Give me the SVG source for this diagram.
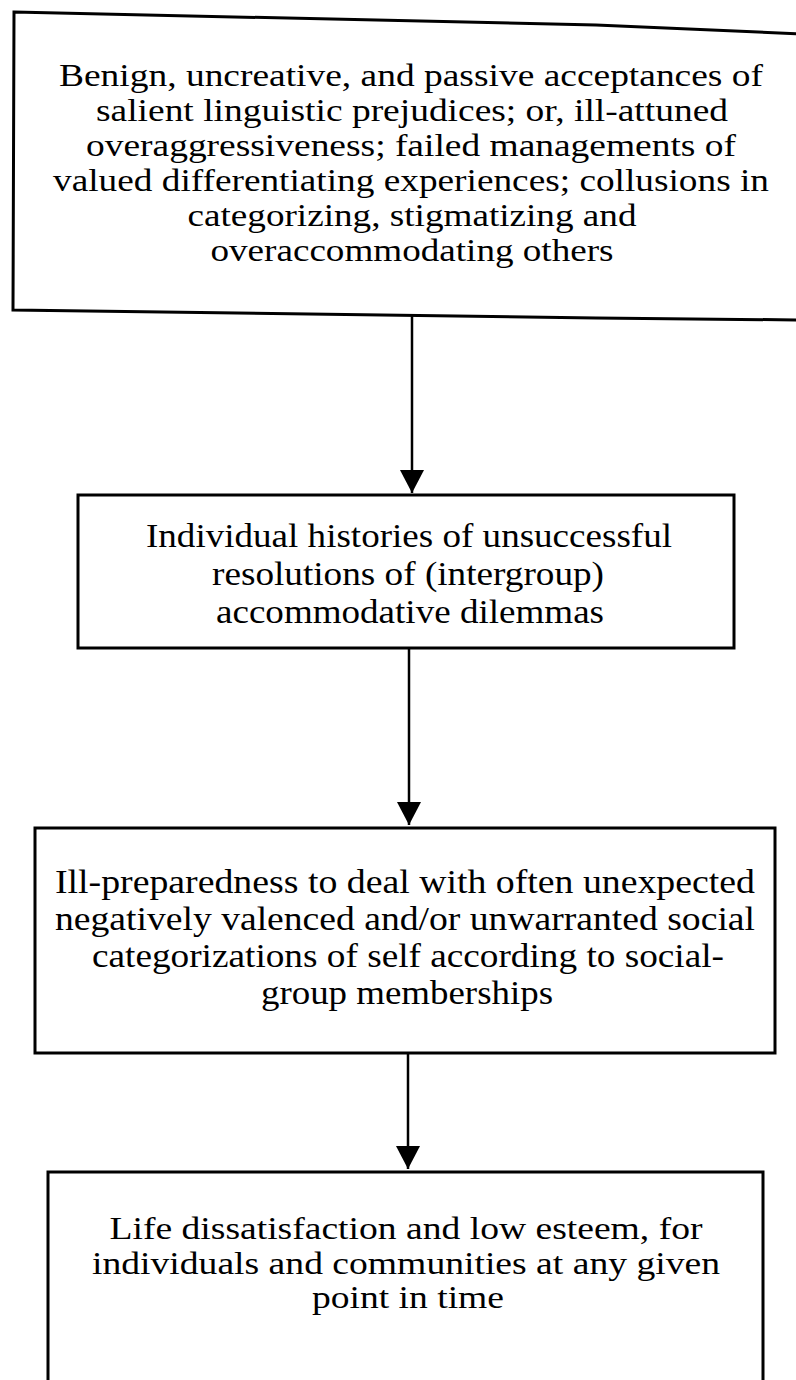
<svg xmlns="http://www.w3.org/2000/svg" width="796" height="1380" viewBox="0 0 796 1380">
<style>
.box{fill:none;stroke:#000;stroke-width:3;stroke-linejoin:miter}
.t{font-family:"Liberation Serif","Times New Roman",serif;fill:#000;text-anchor:middle}
.s1{font-size:31.5px}
.s2{font-size:34px}
.s3{font-size:33px}
.s4{font-size:31px}
.c{stroke:#000;stroke-width:2.5;fill:none}
</style>
<defs>
<marker id="ah" markerUnits="userSpaceOnUse" markerWidth="24" markerHeight="24" viewBox="0 0 24 24" refX="23" refY="12" orient="auto">
<path d="M0,0 L23,12 L0,24 Z" fill="#000"/>
</marker>
</defs>
<rect width="796" height="1380" fill="#fff"/>
<g id="node1">
<polygon class="box" points="14,12 596,25 802,34 802,320 596,318 13,310"/>
<text class="t s1" x="411" y="86" textLength="704" lengthAdjust="spacingAndGlyphs">Benign, uncreative, and passive acceptances of</text>
<text class="t s1" x="412" y="121" textLength="632" lengthAdjust="spacingAndGlyphs">salient linguistic prejudices; or, ill-attuned</text>
<text class="t s1" x="411" y="156" textLength="650" lengthAdjust="spacingAndGlyphs">overaggressiveness; failed managements of</text>
<text class="t s1" x="411" y="191" textLength="716" lengthAdjust="spacingAndGlyphs">valued differentiating experiences; collusions in</text>
<text class="t s1" x="412" y="226" textLength="449" lengthAdjust="spacingAndGlyphs">categorizing, stigmatizing and</text>
<text class="t s1" x="412" y="261" textLength="403" lengthAdjust="spacingAndGlyphs">overaccommodating others</text>
</g>
<g id="node2">
<rect class="box" x="78" y="495" width="656" height="153"/>
<text class="t s2" x="409" y="547" textLength="526" lengthAdjust="spacingAndGlyphs">Individual histories of unsuccessful</text>
<text class="t s2" x="408" y="585" textLength="392" lengthAdjust="spacingAndGlyphs">resolutions of (intergroup)</text>
<text class="t s2" x="410" y="623" textLength="388" lengthAdjust="spacingAndGlyphs">accommodative dilemmas</text>
</g>
<g id="node3">
<rect class="box" x="35" y="828" width="740" height="225"/>
<text class="t s3" x="405" y="893" textLength="700" lengthAdjust="spacingAndGlyphs">Ill-preparedness to deal with often unexpected</text>
<text class="t s3" x="405" y="930" textLength="700" lengthAdjust="spacingAndGlyphs">negatively valenced and/or unwarranted social</text>
<text class="t s3" x="408" y="967" textLength="632" lengthAdjust="spacingAndGlyphs">categorizations of self according to social-</text>
<text class="t s3" x="407" y="1004" textLength="292" lengthAdjust="spacingAndGlyphs">group memberships</text>
</g>
<g id="node4">
<polyline class="box" points="48,1392 48,1172 763,1172 763,1392"/>
<text class="t s4" x="406" y="1239" textLength="593" lengthAdjust="spacingAndGlyphs">Life dissatisfaction and low esteem, for</text>
<text class="t s4" x="406" y="1273.5" textLength="628" lengthAdjust="spacingAndGlyphs">individuals and communities at any given</text>
<text class="t s4" x="408" y="1308" textLength="192" lengthAdjust="spacingAndGlyphs">point in time</text>
</g>
<g id="connectors">
<line class="c" x1="412" y1="316" x2="412" y2="493" marker-end="url(#ah)"/>
<line class="c" x1="409" y1="648" x2="409" y2="825" marker-end="url(#ah)"/>
<line class="c" x1="408" y1="1053" x2="408" y2="1169" marker-end="url(#ah)"/>
</g>
</svg>
